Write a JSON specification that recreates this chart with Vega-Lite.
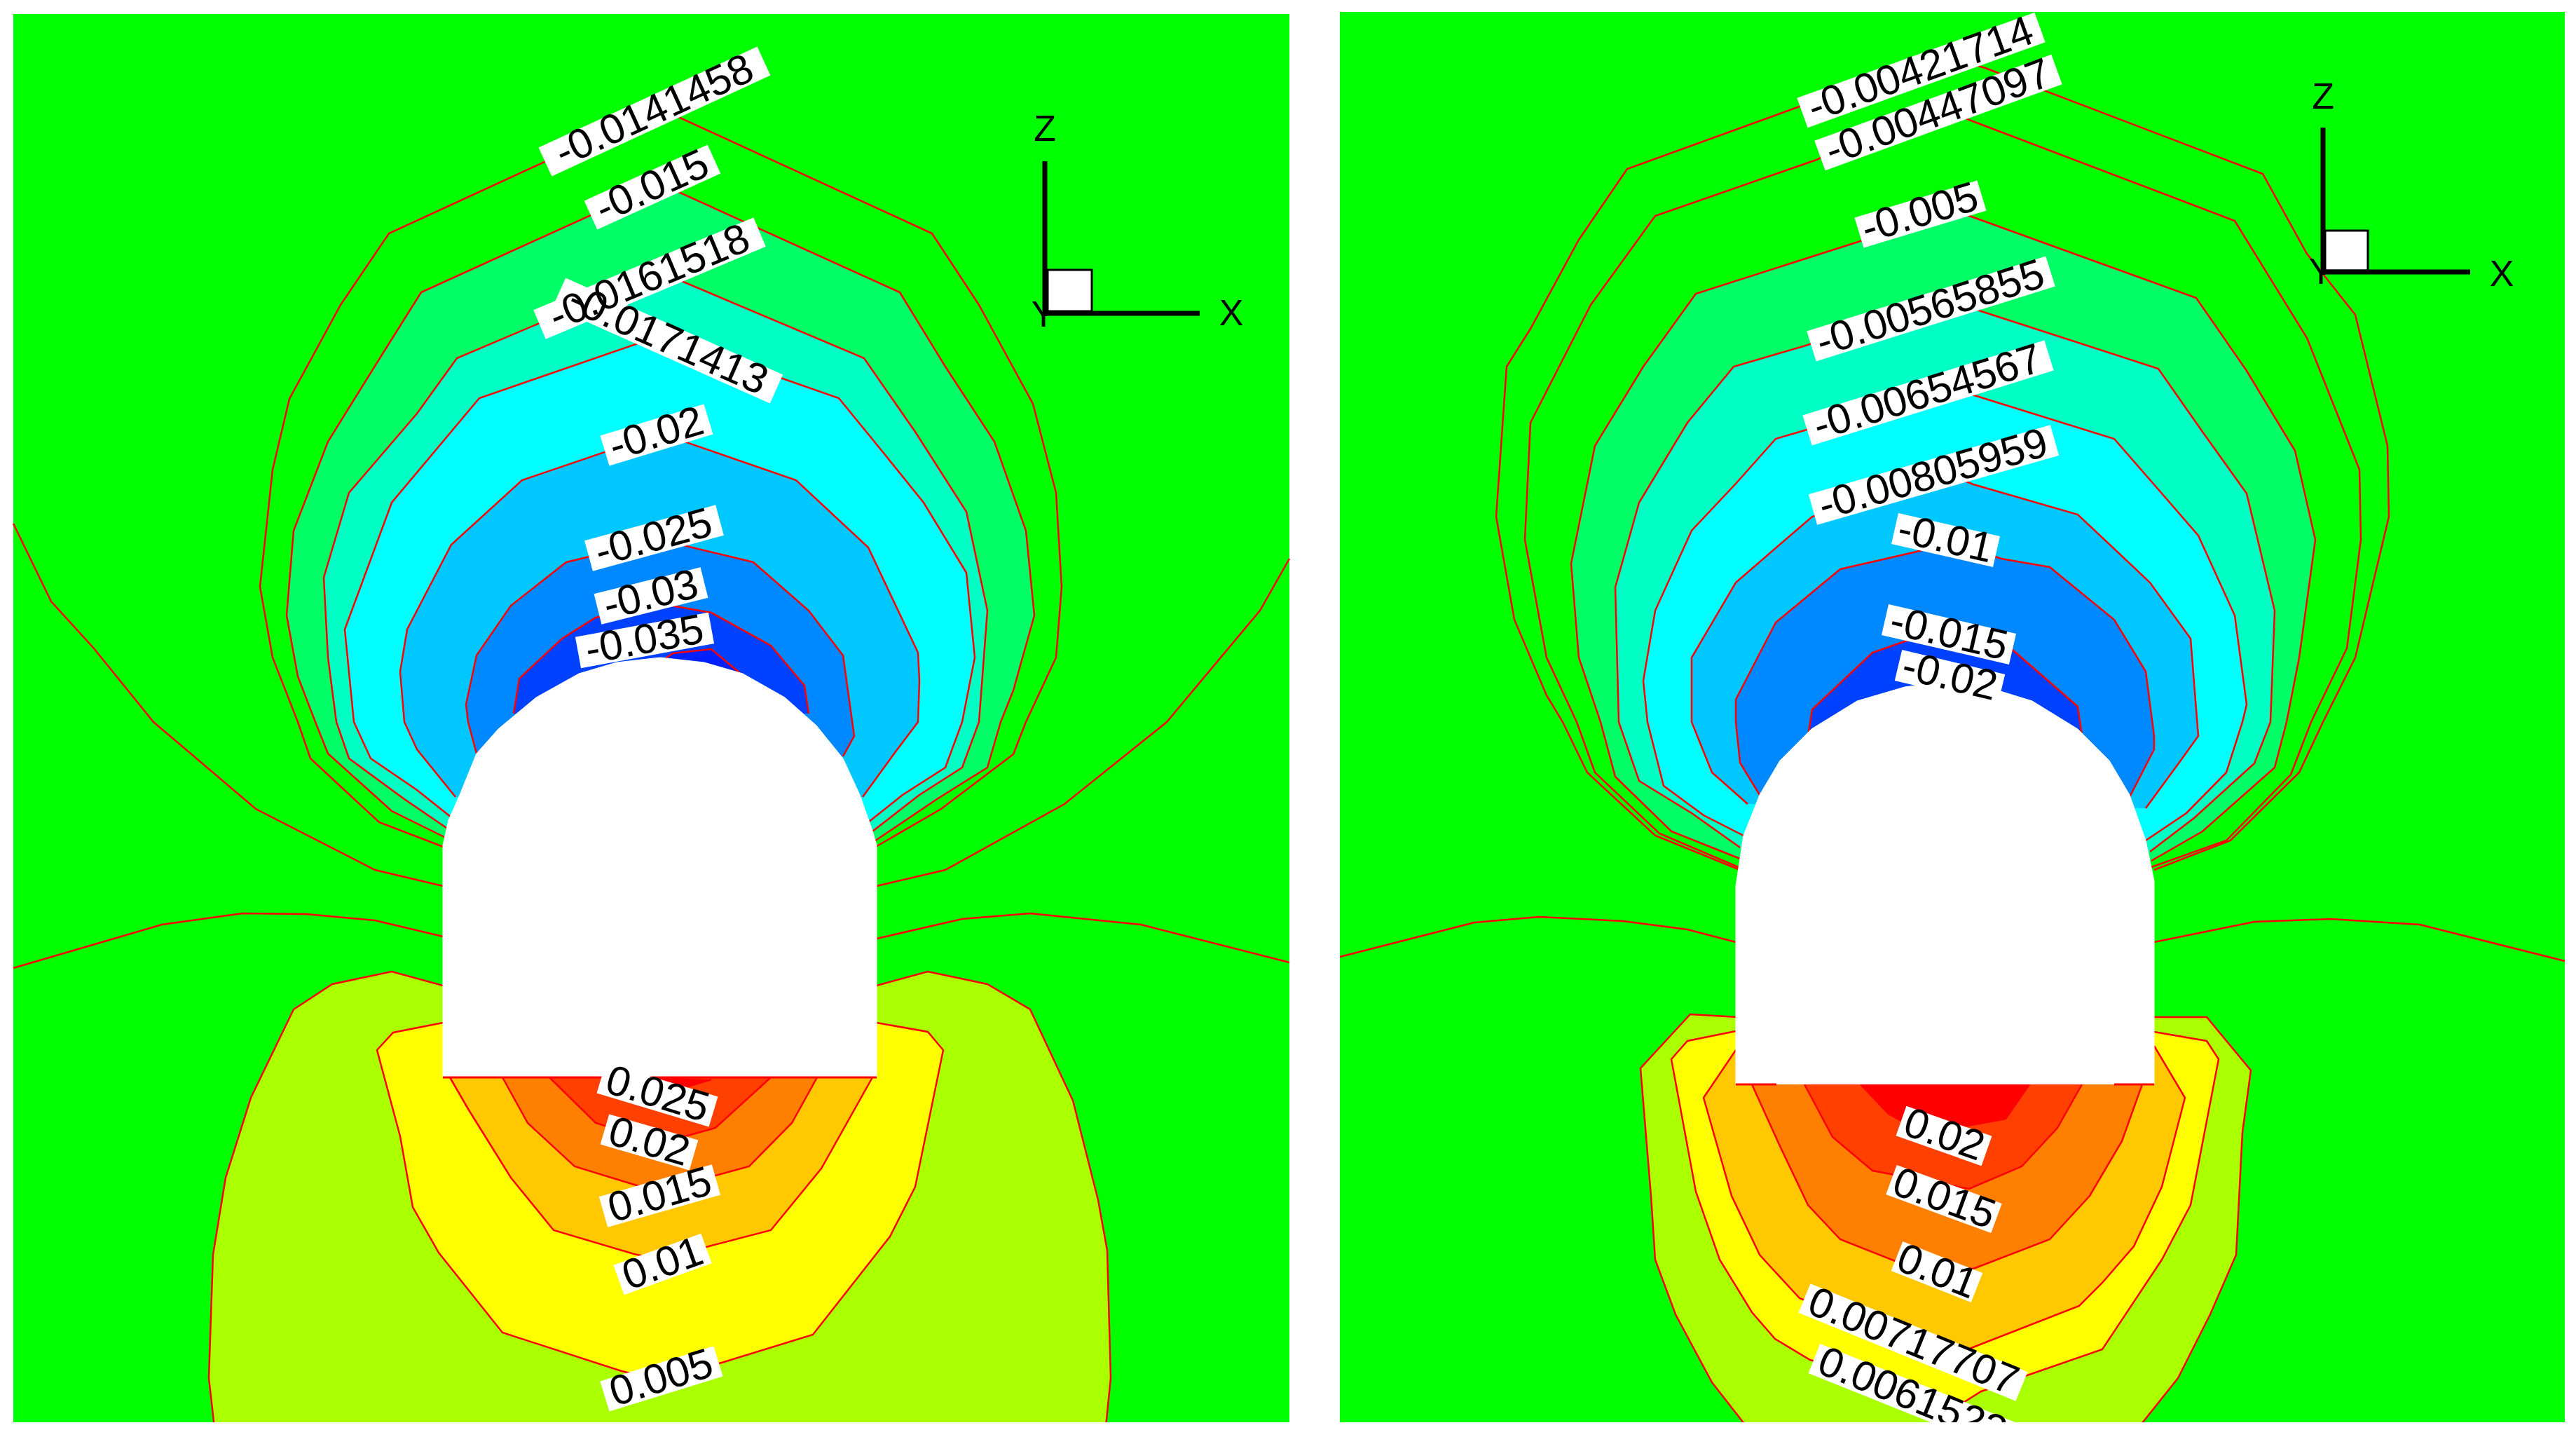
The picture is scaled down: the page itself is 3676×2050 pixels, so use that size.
{
"$schema":"https://vega.github.io/schema/vega-lite/v6.json",
"width":3676,"height":2050,
"autosize":{"type":"fit","contains":"padding"},
"padding":0,
"background":"white",
"config":{"view":{"stroke":null}},
"datasets":{
"panels":[{"x0":19,"x1":1840,"y0":20,"y1":2029},{"x0":1912,"x1":3660,"y0":17,"y1":2029}],
"margins":[{"x0":0,"x1":3676,"y0":2029,"y1":2050},{"x0":0,"x1":3676,"y0":0,"y1":17},{"x0":0,"x1":1900,"y0":0,"y1":20}],
"bands":[
{"id":"L1","band":"b0","i":0,"x":635,"y":1209},{"id":"L1","band":"b0","i":1,"x":541,"y":1173},{"id":"L1","band":"b0","i":2,"x":443,"y":1082},{"id":"L1","band":"b0","i":3,"x":425,"y":1030},{"id":"L1","band":"b0","i":4,"x":389,"y":938},{"id":"L1","band":"b0","i":5,"x":371,"y":837},{"id":"L1","band":"b0","i":6,"x":389,"y":670},{"id":"L1","band":"b0","i":7,"x":413,"y":569},{"id":"L1","band":"b0","i":8,"x":486,"y":435},{"id":"L1","band":"b0","i":9,"x":555,"y":333},{"id":"L1","band":"b0","i":10,"x":942,"y":155},{"id":"L1","band":"b0","i":11,"x":1330,"y":333},{"id":"L1","band":"b0","i":12,"x":1397,"y":435},{"id":"L1","band":"b0","i":13,"x":1474,"y":576},{"id":"L1","band":"b0","i":14,"x":1507,"y":703},{"id":"L1","band":"b0","i":15,"x":1515,"y":837},{"id":"L1","band":"b0","i":16,"x":1507,"y":938},{"id":"L1","band":"b0","i":17,"x":1464,"y":1030},{"id":"L1","band":"b0","i":18,"x":1446,"y":1076},{"id":"L1","band":"b0","i":19,"x":1343,"y":1154},{"id":"L1","band":"b0","i":20,"x":1248,"y":1209},
{"id":"L2","band":"b1","i":0,"x":638,"y":1196},{"id":"L2","band":"b1","i":1,"x":559,"y":1157},{"id":"L2","band":"b1","i":2,"x":468,"y":1075},{"id":"L2","band":"b1","i":3,"x":450,"y":1030},{"id":"L2","band":"b1","i":4,"x":425,"y":965},{"id":"L2","band":"b1","i":5,"x":409,"y":878},{"id":"L2","band":"b1","i":6,"x":419,"y":757},{"id":"L2","band":"b1","i":7,"x":468,"y":630},{"id":"L2","band":"b1","i":8,"x":547,"y":503},{"id":"L2","band":"b1","i":9,"x":601,"y":417},{"id":"L2","band":"b1","i":10,"x":942,"y":262},{"id":"L2","band":"b1","i":11,"x":1284,"y":417},{"id":"L2","band":"b1","i":12,"x":1349,"y":523},{"id":"L2","band":"b1","i":13,"x":1419,"y":630},{"id":"L2","band":"b1","i":14,"x":1464,"y":757},{"id":"L2","band":"b1","i":15,"x":1476,"y":878},{"id":"L2","band":"b1","i":16,"x":1446,"y":985},{"id":"L2","band":"b1","i":17,"x":1428,"y":1030},{"id":"L2","band":"b1","i":18,"x":1409,"y":1095},{"id":"L2","band":"b1","i":19,"x":1337,"y":1140},{"id":"L2","band":"b1","i":20,"x":1248,"y":1200},
{"id":"L3","band":"b2","i":0,"x":640,"y":1183},{"id":"L3","band":"b2","i":1,"x":577,"y":1140},{"id":"L3","band":"b2","i":2,"x":498,"y":1082},{"id":"L3","band":"b2","i":3,"x":480,"y":1030},{"id":"L3","band":"b2","i":4,"x":468,"y":938},{"id":"L3","band":"b2","i":5,"x":462,"y":824},{"id":"L3","band":"b2","i":6,"x":498,"y":703},{"id":"L3","band":"b2","i":7,"x":595,"y":590},{"id":"L3","band":"b2","i":8,"x":652,"y":511},{"id":"L3","band":"b2","i":9,"x":942,"y":388},{"id":"L3","band":"b2","i":10,"x":1233,"y":511},{"id":"L3","band":"b2","i":11,"x":1306,"y":616},{"id":"L3","band":"b2","i":12,"x":1379,"y":730},{"id":"L3","band":"b2","i":13,"x":1409,"y":871},{"id":"L3","band":"b2","i":14,"x":1397,"y":1030},{"id":"L3","band":"b2","i":15,"x":1373,"y":1095},{"id":"L3","band":"b2","i":16,"x":1312,"y":1134},{"id":"L3","band":"b2","i":17,"x":1245,"y":1186},
{"id":"L4","band":"b3","i":0,"x":644,"y":1166},{"id":"L4","band":"b3","i":1,"x":595,"y":1127},{"id":"L4","band":"b3","i":2,"x":529,"y":1082},{"id":"L4","band":"b3","i":3,"x":505,"y":1030},{"id":"L4","band":"b3","i":4,"x":492,"y":898},{"id":"L4","band":"b3","i":5,"x":559,"y":717},{"id":"L4","band":"b3","i":6,"x":684,"y":568},{"id":"L4","band":"b3","i":7,"x":942,"y":479},{"id":"L4","band":"b3","i":8,"x":1197,"y":568},{"id":"L4","band":"b3","i":9,"x":1264,"y":650},{"id":"L4","band":"b3","i":10,"x":1318,"y":717},{"id":"L4","band":"b3","i":11,"x":1379,"y":817},{"id":"L4","band":"b3","i":12,"x":1391,"y":938},{"id":"L4","band":"b3","i":13,"x":1373,"y":1030},{"id":"L4","band":"b3","i":14,"x":1349,"y":1095},{"id":"L4","band":"b3","i":15,"x":1288,"y":1134},{"id":"L4","band":"b3","i":16,"x":1239,"y":1173},
{"id":"L5","band":"b4","i":0,"x":650,"y":1137},{"id":"L5","band":"b4","i":1,"x":595,"y":1069},{"id":"L5","band":"b4","i":2,"x":577,"y":1030},{"id":"L5","band":"b4","i":3,"x":571,"y":958},{"id":"L5","band":"b4","i":4,"x":581,"y":898},{"id":"L5","band":"b4","i":5,"x":644,"y":777},{"id":"L5","band":"b4","i":6,"x":745,"y":685},{"id":"L5","band":"b4","i":7,"x":942,"y":618},{"id":"L5","band":"b4","i":8,"x":1136,"y":685},{"id":"L5","band":"b4","i":9,"x":1239,"y":781},{"id":"L5","band":"b4","i":10,"x":1310,"y":931},{"id":"L5","band":"b4","i":11,"x":1312,"y":971},{"id":"L5","band":"b4","i":12,"x":1310,"y":1030},{"id":"L5","band":"b4","i":13,"x":1276,"y":1075},{"id":"L5","band":"b4","i":14,"x":1231,"y":1137},
{"id":"L6","band":"b5","i":0,"x":680,"y":1075},{"id":"L6","band":"b5","i":1,"x":668,"y":1030},{"id":"L6","band":"b5","i":2,"x":665,"y":1005},{"id":"L6","band":"b5","i":3,"x":680,"y":935},{"id":"L6","band":"b5","i":4,"x":729,"y":864},{"id":"L6","band":"b5","i":5,"x":808,"y":802},{"id":"L6","band":"b5","i":6,"x":942,"y":770},{"id":"L6","band":"b5","i":7,"x":1075,"y":802},{"id":"L6","band":"b5","i":8,"x":1154,"y":871},{"id":"L6","band":"b5","i":9,"x":1203,"y":935},{"id":"L6","band":"b5","i":10,"x":1219,"y":1050},{"id":"L6","band":"b5","i":11,"x":1203,"y":1079},
{"id":"L7","band":"b6","i":0,"x":733,"y":1018},{"id":"L7","band":"b6","i":1,"x":741,"y":968},{"id":"L7","band":"b6","i":2,"x":802,"y":911},{"id":"L7","band":"b6","i":3,"x":850,"y":881},{"id":"L7","band":"b6","i":4,"x":942,"y":861},{"id":"L7","band":"b6","i":5,"x":1015,"y":874},{"id":"L7","band":"b6","i":6,"x":1100,"y":921},{"id":"L7","band":"b6","i":7,"x":1148,"y":978},{"id":"L7","band":"b6","i":8,"x":1154,"y":1018},
{"id":"L8","band":"b7","i":0,"x":942,"y":945},{"id":"L8","band":"b7","i":1,"x":960,"y":932},{"id":"L8","band":"b7","i":2,"x":1015,"y":926},{"id":"L8","band":"b7","i":3,"x":1058,"y":962},
{"id":"W1","band":"w1","i":0,"x":307,"y":2045},{"id":"W1","band":"w1","i":1,"x":298,"y":1966},{"id":"W1","band":"w1","i":2,"x":304,"y":1790},{"id":"W1","band":"w1","i":3,"x":322,"y":1680},{"id":"W1","band":"w1","i":4,"x":358,"y":1566},{"id":"W1","band":"w1","i":5,"x":419,"y":1440},{"id":"W1","band":"w1","i":6,"x":474,"y":1404},{"id":"W1","band":"w1","i":7,"x":559,"y":1386},{"id":"W1","band":"w1","i":8,"x":632,"y":1406},{"id":"W1","band":"w1","i":9,"x":1251,"y":1406},{"id":"W1","band":"w1","i":10,"x":1324,"y":1386},{"id":"W1","band":"w1","i":11,"x":1409,"y":1404},{"id":"W1","band":"w1","i":12,"x":1470,"y":1440},{"id":"W1","band":"w1","i":13,"x":1531,"y":1570},{"id":"W1","band":"w1","i":14,"x":1567,"y":1712},{"id":"W1","band":"w1","i":15,"x":1580,"y":1784},{"id":"W1","band":"w1","i":16,"x":1585,"y":1966},{"id":"W1","band":"w1","i":17,"x":1577,"y":2045},
{"id":"W2","band":"w2","i":0,"x":632,"y":1459},{"id":"W2","band":"w2","i":1,"x":561,"y":1473},{"id":"W2","band":"w2","i":2,"x":538,"y":1498},{"id":"W2","band":"w2","i":3,"x":571,"y":1621},{"id":"W2","band":"w2","i":4,"x":589,"y":1722},{"id":"W2","band":"w2","i":5,"x":626,"y":1787},{"id":"W2","band":"w2","i":6,"x":717,"y":1901},{"id":"W2","band":"w2","i":7,"x":887,"y":1956},{"id":"W2","band":"w2","i":8,"x":942,"y":1969},{"id":"W2","band":"w2","i":9,"x":1033,"y":1943},{"id":"W2","band":"w2","i":10,"x":1160,"y":1904},{"id":"W2","band":"w2","i":11,"x":1270,"y":1764},{"id":"W2","band":"w2","i":12,"x":1306,"y":1693},{"id":"W2","band":"w2","i":13,"x":1346,"y":1498},{"id":"W2","band":"w2","i":14,"x":1324,"y":1472},{"id":"W2","band":"w2","i":15,"x":1251,"y":1459},
{"id":"W3","band":"w3","i":0,"x":642,"y":1537},{"id":"W3","band":"w3","i":1,"x":668,"y":1582},{"id":"W3","band":"w3","i":2,"x":729,"y":1680},{"id":"W3","band":"w3","i":3,"x":790,"y":1755},{"id":"W3","band":"w3","i":4,"x":905,"y":1789},{"id":"W3","band":"w3","i":5,"x":942,"y":1797},{"id":"W3","band":"w3","i":6,"x":1015,"y":1777},{"id":"W3","band":"w3","i":7,"x":1100,"y":1755},{"id":"W3","band":"w3","i":8,"x":1172,"y":1667},{"id":"W3","band":"w3","i":9,"x":1245,"y":1537},
{"id":"W4","band":"w4","i":0,"x":717,"y":1537},{"id":"W4","band":"w4","i":1,"x":753,"y":1602},{"id":"W4","band":"w4","i":2,"x":820,"y":1664},{"id":"W4","band":"w4","i":3,"x":905,"y":1690},{"id":"W4","band":"w4","i":4,"x":942,"y":1700},{"id":"W4","band":"w4","i":5,"x":1021,"y":1677},{"id":"W4","band":"w4","i":6,"x":1069,"y":1664},{"id":"W4","band":"w4","i":7,"x":1130,"y":1602},{"id":"W4","band":"w4","i":8,"x":1166,"y":1537},
{"id":"W5","band":"w5","i":0,"x":784,"y":1537},{"id":"W5","band":"w5","i":1,"x":850,"y":1602},{"id":"W5","band":"w5","i":2,"x":942,"y":1631},{"id":"W5","band":"w5","i":3,"x":1021,"y":1609},{"id":"W5","band":"w5","i":4,"x":1100,"y":1537},
{"id":"W6","band":"w6","i":0,"x":936,"y":1537},{"id":"W6","band":"w6","i":1,"x":972,"y":1553},{"id":"W6","band":"w6","i":2,"x":1015,"y":1540},
{"id":"R1","band":"b0","i":0,"x":2483,"y":1241},{"id":"R1","band":"b0","i":1,"x":2362,"y":1192},{"id":"R1","band":"b0","i":2,"x":2265,"y":1102},{"id":"R1","band":"b0","i":3,"x":2230,"y":1030},{"id":"R1","band":"b0","i":4,"x":2207,"y":992},{"id":"R1","band":"b0","i":5,"x":2161,"y":884},{"id":"R1","band":"b0","i":6,"x":2135,"y":737},{"id":"R1","band":"b0","i":7,"x":2150,"y":523},{"id":"R1","band":"b0","i":8,"x":2184,"y":469},{"id":"R1","band":"b0","i":9,"x":2253,"y":342},{"id":"R1","band":"b0","i":10,"x":2322,"y":241},{"id":"R1","band":"b0","i":11,"x":2565,"y":153},{"id":"R1","band":"b0","i":12,"x":2764,"y":77},{"id":"R1","band":"b0","i":13,"x":2833,"y":97},{"id":"R1","band":"b0","i":14,"x":3229,"y":248},{"id":"R1","band":"b0","i":15,"x":3292,"y":362},{"id":"R1","band":"b0","i":16,"x":3361,"y":449},{"id":"R1","band":"b0","i":17,"x":3407,"y":636},{"id":"R1","band":"b0","i":18,"x":3409,"y":737},{"id":"R1","band":"b0","i":19,"x":3361,"y":938},{"id":"R1","band":"b0","i":20,"x":3315,"y":1030},{"id":"R1","band":"b0","i":21,"x":3281,"y":1102},{"id":"R1","band":"b0","i":22,"x":3183,"y":1199},{"id":"R1","band":"b0","i":23,"x":3074,"y":1241},
{"id":"R2","band":"b0","i":0,"x":2483,"y":1238},{"id":"R2","band":"b0","i":1,"x":2368,"y":1189},{"id":"R2","band":"b0","i":2,"x":2276,"y":1102},{"id":"R2","band":"b0","i":3,"x":2250,"y":1030},{"id":"R2","band":"b0","i":4,"x":2207,"y":938},{"id":"R2","band":"b0","i":5,"x":2176,"y":770},{"id":"R2","band":"b0","i":6,"x":2184,"y":603},{"id":"R2","band":"b0","i":7,"x":2270,"y":435},{"id":"R2","band":"b0","i":8,"x":2362,"y":308},{"id":"R2","band":"b0","i":9,"x":2592,"y":228},{"id":"R2","band":"b0","i":10,"x":2764,"y":151},{"id":"R2","band":"b0","i":11,"x":2810,"y":171},{"id":"R2","band":"b0","i":12,"x":3189,"y":315},{"id":"R2","band":"b0","i":13,"x":3292,"y":482},{"id":"R2","band":"b0","i":14,"x":3367,"y":670},{"id":"R2","band":"b0","i":15,"x":3369,"y":770},{"id":"R2","band":"b0","i":16,"x":3349,"y":925},{"id":"R2","band":"b0","i":17,"x":3298,"y":1030},{"id":"R2","band":"b0","i":18,"x":3269,"y":1105},{"id":"R2","band":"b0","i":19,"x":3177,"y":1199},{"id":"R2","band":"b0","i":20,"x":3070,"y":1237},
{"id":"R3","band":"b1","i":0,"x":2483,"y":1225},{"id":"R3","band":"b1","i":1,"x":2385,"y":1186},{"id":"R3","band":"b1","i":2,"x":2305,"y":1108},{"id":"R3","band":"b1","i":3,"x":2284,"y":1030},{"id":"R3","band":"b1","i":4,"x":2253,"y":938},{"id":"R3","band":"b1","i":5,"x":2242,"y":804},{"id":"R3","band":"b1","i":6,"x":2276,"y":636},{"id":"R3","band":"b1","i":7,"x":2345,"y":523},{"id":"R3","band":"b1","i":8,"x":2420,"y":419},{"id":"R3","band":"b1","i":9,"x":2661,"y":342},{"id":"R3","band":"b1","i":10,"x":2770,"y":295},{"id":"R3","band":"b1","i":11,"x":2816,"y":310},{"id":"R3","band":"b1","i":12,"x":3134,"y":425},{"id":"R3","band":"b1","i":13,"x":3206,"y":529},{"id":"R3","band":"b1","i":14,"x":3275,"y":643},{"id":"R3","band":"b1","i":15,"x":3304,"y":770},{"id":"R3","band":"b1","i":16,"x":3281,"y":938},{"id":"R3","band":"b1","i":17,"x":3263,"y":1030},{"id":"R3","band":"b1","i":18,"x":3246,"y":1095},{"id":"R3","band":"b1","i":19,"x":3143,"y":1186},{"id":"R3","band":"b1","i":20,"x":3070,"y":1228},
{"id":"R4","band":"b2","i":0,"x":2483,"y":1209},{"id":"R4","band":"b2","i":1,"x":2414,"y":1160},{"id":"R4","band":"b2","i":2,"x":2339,"y":1114},{"id":"R4","band":"b2","i":3,"x":2310,"y":1030},{"id":"R4","band":"b2","i":4,"x":2305,"y":838},{"id":"R4","band":"b2","i":5,"x":2339,"y":717},{"id":"R4","band":"b2","i":6,"x":2408,"y":603},{"id":"R4","band":"b2","i":7,"x":2474,"y":523},{"id":"R4","band":"b2","i":8,"x":2580,"y":492},{"id":"R4","band":"b2","i":9,"x":2770,"y":422},{"id":"R4","band":"b2","i":10,"x":2821,"y":442},{"id":"R4","band":"b2","i":11,"x":3080,"y":526},{"id":"R4","band":"b2","i":12,"x":3143,"y":616},{"id":"R4","band":"b2","i":13,"x":3206,"y":704},{"id":"R4","band":"b2","i":14,"x":3246,"y":871},{"id":"R4","band":"b2","i":15,"x":3240,"y":1030},{"id":"R4","band":"b2","i":16,"x":3217,"y":1089},{"id":"R4","band":"b2","i":17,"x":3131,"y":1167},{"id":"R4","band":"b2","i":18,"x":3068,"y":1215},
{"id":"R5","band":"b3","i":0,"x":2488,"y":1192},{"id":"R5","band":"b3","i":1,"x":2431,"y":1163},{"id":"R5","band":"b3","i":2,"x":2374,"y":1121},{"id":"R5","band":"b3","i":3,"x":2351,"y":1030},{"id":"R5","band":"b3","i":4,"x":2345,"y":971},{"id":"R5","band":"b3","i":5,"x":2362,"y":871},{"id":"R5","band":"b3","i":6,"x":2414,"y":757},{"id":"R5","band":"b3","i":7,"x":2477,"y":690},{"id":"R5","band":"b3","i":8,"x":2534,"y":626},{"id":"R5","band":"b3","i":9,"x":2575,"y":614},{"id":"R5","band":"b3","i":10,"x":2770,"y":549},{"id":"R5","band":"b3","i":11,"x":2827,"y":567},{"id":"R5","band":"b3","i":12,"x":3017,"y":626},{"id":"R5","band":"b3","i":13,"x":3085,"y":704},{"id":"R5","band":"b3","i":14,"x":3137,"y":764},{"id":"R5","band":"b3","i":15,"x":3189,"y":878},{"id":"R5","band":"b3","i":16,"x":3206,"y":1005},{"id":"R5","band":"b3","i":17,"x":3200,"y":1030},{"id":"R5","band":"b3","i":18,"x":3177,"y":1102},{"id":"R5","band":"b3","i":19,"x":3120,"y":1160},{"id":"R5","band":"b3","i":20,"x":3062,"y":1199},
{"id":"R6","band":"b4","i":0,"x":2494,"y":1147},{"id":"R6","band":"b4","i":1,"x":2443,"y":1102},{"id":"R6","band":"b4","i":2,"x":2414,"y":1030},{"id":"R6","band":"b4","i":3,"x":2414,"y":938},{"id":"R6","band":"b4","i":4,"x":2477,"y":831},{"id":"R6","band":"b4","i":5,"x":2586,"y":737},{"id":"R6","band":"b4","i":6,"x":2770,"y":673},{"id":"R6","band":"b4","i":7,"x":2816,"y":691},{"id":"R6","band":"b4","i":8,"x":2965,"y":734},{"id":"R6","band":"b4","i":9,"x":3068,"y":831},{"id":"R6","band":"b4","i":10,"x":3126,"y":911},{"id":"R6","band":"b4","i":11,"x":3137,"y":1050},{"id":"R6","band":"b4","i":12,"x":3114,"y":1082},{"id":"R6","band":"b4","i":13,"x":3062,"y":1153},
{"id":"R7","band":"b5","i":0,"x":2511,"y":1134},{"id":"R7","band":"b5","i":1,"x":2483,"y":1088},{"id":"R7","band":"b5","i":2,"x":2477,"y":1030},{"id":"R7","band":"b5","i":3,"x":2477,"y":998},{"id":"R7","band":"b5","i":4,"x":2534,"y":888},{"id":"R7","band":"b5","i":5,"x":2626,"y":812},{"id":"R7","band":"b5","i":6,"x":2735,"y":787},{"id":"R7","band":"b5","i":7,"x":2787,"y":774},{"id":"R7","band":"b5","i":8,"x":2856,"y":797},{"id":"R7","band":"b5","i":9,"x":2925,"y":809},{"id":"R7","band":"b5","i":10,"x":3017,"y":884},{"id":"R7","band":"b5","i":11,"x":3062,"y":958},{"id":"R7","band":"b5","i":12,"x":3074,"y":1050},{"id":"R7","band":"b5","i":13,"x":3074,"y":1069},{"id":"R7","band":"b5","i":14,"x":3039,"y":1137},
{"id":"R8","band":"b6","i":0,"x":2580,"y":1050},{"id":"R8","band":"b6","i":1,"x":2586,"y":1012},{"id":"R8","band":"b6","i":2,"x":2672,"y":931},{"id":"R8","band":"b6","i":3,"x":2718,"y":915},{"id":"R8","band":"b6","i":4,"x":2770,"y":901},{"id":"R8","band":"b6","i":5,"x":2873,"y":928},{"id":"R8","band":"b6","i":6,"x":2965,"y":1008},{"id":"R8","band":"b6","i":7,"x":2971,"y":1050},
{"id":"RW1","band":"w1","i":0,"x":2500,"y":2045},{"id":"RW1","band":"w1","i":1,"x":2443,"y":1972},{"id":"RW1","band":"w1","i":2,"x":2391,"y":1875},{"id":"RW1","band":"w1","i":3,"x":2362,"y":1797},{"id":"RW1","band":"w1","i":4,"x":2356,"y":1706},{"id":"RW1","band":"w1","i":5,"x":2341,"y":1524},{"id":"RW1","band":"w1","i":6,"x":2412,"y":1447},{"id":"RW1","band":"w1","i":7,"x":2480,"y":1451},{"id":"RW1","band":"w1","i":8,"x":3074,"y":1451},{"id":"RW1","band":"w1","i":9,"x":3149,"y":1451},{"id":"RW1","band":"w1","i":10,"x":3212,"y":1527},{"id":"RW1","band":"w1","i":11,"x":3200,"y":1615},{"id":"RW1","band":"w1","i":12,"x":3191,"y":1790},{"id":"RW1","band":"w1","i":13,"x":3154,"y":1875},{"id":"RW1","band":"w1","i":14,"x":3108,"y":1966},{"id":"RW1","band":"w1","i":15,"x":3045,"y":2045},
{"id":"RW2","band":"w2","i":0,"x":2477,"y":1471},{"id":"RW2","band":"w2","i":1,"x":2408,"y":1485},{"id":"RW2","band":"w2","i":2,"x":2385,"y":1511},{"id":"RW2","band":"w2","i":3,"x":2420,"y":1700},{"id":"RW2","band":"w2","i":4,"x":2454,"y":1797},{"id":"RW2","band":"w2","i":5,"x":2500,"y":1872},{"id":"RW2","band":"w2","i":6,"x":2533,"y":1910},{"id":"RW2","band":"w2","i":7,"x":2583,"y":1940},{"id":"RW2","band":"w2","i":8,"x":2800,"y":2002},{"id":"RW2","band":"w2","i":9,"x":2827,"y":1985},{"id":"RW2","band":"w2","i":10,"x":2890,"y":1963},{"id":"RW2","band":"w2","i":11,"x":3000,"y":1925},{"id":"RW2","band":"w2","i":12,"x":3085,"y":1797},{"id":"RW2","band":"w2","i":13,"x":3126,"y":1719},{"id":"RW2","band":"w2","i":14,"x":3166,"y":1511},{"id":"RW2","band":"w2","i":15,"x":3149,"y":1485},{"id":"RW2","band":"w2","i":16,"x":3074,"y":1472},
{"id":"RW3","band":"w3","i":0,"x":2477,"y":1498},{"id":"RW3","band":"w3","i":1,"x":2431,"y":1566},{"id":"RW3","band":"w3","i":2,"x":2471,"y":1706},{"id":"RW3","band":"w3","i":3,"x":2511,"y":1790},{"id":"RW3","band":"w3","i":4,"x":2520,"y":1800},{"id":"RW3","band":"w3","i":5,"x":2568,"y":1852},{"id":"RW3","band":"w3","i":6,"x":2790,"y":1936},{"id":"RW3","band":"w3","i":7,"x":2813,"y":1923},{"id":"RW3","band":"w3","i":8,"x":2967,"y":1863},{"id":"RW3","band":"w3","i":9,"x":3000,"y":1830},{"id":"RW3","band":"w3","i":10,"x":3045,"y":1778},{"id":"RW3","band":"w3","i":11,"x":3085,"y":1693},{"id":"RW3","band":"w3","i":12,"x":3118,"y":1566},{"id":"RW3","band":"w3","i":13,"x":3074,"y":1492},
{"id":"RW4","band":"w4","i":0,"x":2500,"y":1547},{"id":"RW4","band":"w4","i":1,"x":2540,"y":1635},{"id":"RW4","band":"w4","i":2,"x":2580,"y":1719},{"id":"RW4","band":"w4","i":3,"x":2626,"y":1768},{"id":"RW4","band":"w4","i":4,"x":2707,"y":1800},{"id":"RW4","band":"w4","i":5,"x":2816,"y":1810},{"id":"RW4","band":"w4","i":6,"x":2925,"y":1768},{"id":"RW4","band":"w4","i":7,"x":2982,"y":1706},{"id":"RW4","band":"w4","i":8,"x":3028,"y":1628},{"id":"RW4","band":"w4","i":9,"x":3057,"y":1547},
{"id":"RW5","band":"w5","i":0,"x":2575,"y":1547},{"id":"RW5","band":"w5","i":1,"x":2615,"y":1622},{"id":"RW5","band":"w5","i":2,"x":2672,"y":1670},{"id":"RW5","band":"w5","i":3,"x":2810,"y":1696},{"id":"RW5","band":"w5","i":4,"x":2885,"y":1664},{"id":"RW5","band":"w5","i":5,"x":2936,"y":1609},{"id":"RW5","band":"w5","i":6,"x":2971,"y":1547},
{"id":"RW6","band":"w6","i":0,"x":2655,"y":1547},{"id":"RW6","band":"w6","i":1,"x":2695,"y":1589},{"id":"RW6","band":"w6","i":2,"x":2724,"y":1605},{"id":"RW6","band":"w6","i":3,"x":2775,"y":1612},{"id":"RW6","band":"w6","i":4,"x":2862,"y":1596},{"id":"RW6","band":"w6","i":5,"x":2896,"y":1547}
],
"lines":[
{"id":"A1","i":0,"x":19,"y":747},{"id":"A1","i":1,"x":73,"y":858},{"id":"A1","i":2,"x":134,"y":925},{"id":"A1","i":3,"x":219,"y":1030},{"id":"A1","i":4,"x":365,"y":1154},{"id":"A1","i":5,"x":535,"y":1241},{"id":"A1","i":6,"x":632,"y":1264},
{"id":"A2","i":0,"x":1840,"y":797},{"id":"A2","i":1,"x":1798,"y":871},{"id":"A2","i":2,"x":1665,"y":1030},{"id":"A2","i":3,"x":1519,"y":1147},{"id":"A2","i":4,"x":1349,"y":1241},{"id":"A2","i":5,"x":1251,"y":1264},
{"id":"B1","i":0,"x":19,"y":1381},{"id":"B1","i":1,"x":231,"y":1319},{"id":"B1","i":2,"x":346,"y":1303},{"id":"B1","i":3,"x":437,"y":1304},{"id":"B1","i":4,"x":535,"y":1313},{"id":"B1","i":5,"x":632,"y":1336},
{"id":"B2","i":0,"x":1840,"y":1373},{"id":"B2","i":1,"x":1628,"y":1319},{"id":"B2","i":2,"x":1470,"y":1303},{"id":"B2","i":3,"x":1373,"y":1311},{"id":"B2","i":4,"x":1251,"y":1339},
{"id":"B3","i":0,"x":1912,"y":1365},{"id":"B3","i":1,"x":2104,"y":1316},{"id":"B3","i":2,"x":2196,"y":1308},{"id":"B3","i":3,"x":2316,"y":1314},{"id":"B3","i":4,"x":2408,"y":1326},{"id":"B3","i":5,"x":2477,"y":1344},
{"id":"B4","i":0,"x":3074,"y":1344},{"id":"B4","i":1,"x":3217,"y":1315},{"id":"B4","i":2,"x":3326,"y":1311},{"id":"B4","i":3,"x":3453,"y":1319},{"id":"B4","i":4,"x":3660,"y":1371}
],
"tunnels":[
{"id":"T1","i":0,"x":632,"y":1536},{"id":"T1","i":1,"x":632,"y":1206},{"id":"T1","i":2,"x":640,"y":1170},{"id":"T1","i":3,"x":656,"y":1134},{"id":"T1","i":4,"x":680,"y":1075},{"id":"T1","i":5,"x":711,"y":1040},{"id":"T1","i":6,"x":765,"y":995},{"id":"T1","i":7,"x":826,"y":961},{"id":"T1","i":8,"x":880,"y":945},{"id":"T1","i":9,"x":942,"y":938},{"id":"T1","i":10,"x":1005,"y":945},{"id":"T1","i":11,"x":1060,"y":961},{"id":"T1","i":12,"x":1120,"y":995},{"id":"T1","i":13,"x":1165,"y":1035},{"id":"T1","i":14,"x":1203,"y":1082},{"id":"T1","i":15,"x":1227,"y":1134},{"id":"T1","i":16,"x":1245,"y":1185},{"id":"T1","i":17,"x":1251,"y":1206},{"id":"T1","i":18,"x":1251,"y":1536},
{"id":"T2","i":0,"x":2477,"y":1547},{"id":"T2","i":1,"x":2477,"y":1264},{"id":"T2","i":2,"x":2488,"y":1192},{"id":"T2","i":3,"x":2511,"y":1134},{"id":"T2","i":4,"x":2540,"y":1085},{"id":"T2","i":5,"x":2585,"y":1040},{"id":"T2","i":6,"x":2650,"y":1000},{"id":"T2","i":7,"x":2718,"y":980},{"id":"T2","i":8,"x":2775,"y":972},{"id":"T2","i":9,"x":2835,"y":980},{"id":"T2","i":10,"x":2900,"y":1000},{"id":"T2","i":11,"x":2965,"y":1040},{"id":"T2","i":12,"x":3010,"y":1085},{"id":"T2","i":13,"x":3039,"y":1134},{"id":"T2","i":14,"x":3062,"y":1199},{"id":"T2","i":15,"x":3074,"y":1257},{"id":"T2","i":16,"x":3074,"y":1547}
],
"floors":[{"x0":632,"x1":1251,"y":1537},{"x0":2477,"x1":2535,"y":1547},{"x0":3017,"x1":3074,"y":1547}],
"labels":[
{"text":"-0.0141458","x":934,"y":159,"angle":-24.6,"x0":778,"y0":231,"x1":1090,"y1":87},
{"text":"-0.015","x":931,"y":267,"angle":-24.4,"x0":843,"y0":307,"x1":1019,"y1":227},
{"text":"-0.0161518","x":927,"y":397,"angle":-22.8,"x0":770,"y0":463,"x1":1084,"y1":331},
{"text":"-0.0171413","x":953,"y":486,"angle":24,"x0":798,"y0":417,"x1":1108,"y1":555},
{"text":"-0.02","x":937,"y":620,"angle":-16.9,"x0":863,"y0":643,"x1":1011,"y1":598},
{"text":"-0.025","x":933,"y":768,"angle":-15.2,"x0":840,"y0":793,"x1":1027,"y1":742},
{"text":"-0.03","x":929,"y":850,"angle":-14,"x0":853,"y0":869,"x1":1005,"y1":831},
{"text":"-0.035","x":920,"y":914,"angle":-10.4,"x0":825,"y0":931,"x1":1015,"y1":896},
{"text":"0.025","x":938,"y":1562,"angle":16.7,"x0":858,"y0":1538,"x1":1018,"y1":1586},
{"text":"0.02","x":926,"y":1630,"angle":16.2,"x0":863,"y0":1611,"x1":990,"y1":1648},
{"text":"0.015","x":942,"y":1706,"angle":-16,"x0":861,"y0":1729,"x1":1022,"y1":1683},
{"text":"0.01","x":946,"y":1804,"angle":-19.8,"x0":883,"y0":1826,"x1":1008,"y1":1781},
{"text":"0.005","x":944,"y":1967,"angle":-17.2,"x0":863,"y0":1992,"x1":1025,"y1":1942},
{"text":"-0.00421714","x":2741,"y":100,"angle":-19.8,"x0":2572,"y0":161,"x1":2911,"y1":39},
{"text":"-0.00447097","x":2766,"y":161,"angle":-20,"x0":2597,"y0":222,"x1":2935,"y1":99},
{"text":"-0.005","x":2740,"y":305,"angle":-16.8,"x0":2653,"y0":332,"x1":2828,"y1":279},
{"text":"-0.00565855","x":2755,"y":441,"angle":-17.4,"x0":2585,"y0":494,"x1":2926,"y1":387},
{"text":"-0.00654567","x":2751,"y":561,"angle":-17.2,"x0":2579,"y0":614,"x1":2924,"y1":507},
{"text":"-0.00805959","x":2759,"y":678,"angle":-16,"x0":2587,"y0":727,"x1":2932,"y1":628},
{"text":"-0.01","x":2776,"y":770,"angle":12.8,"x0":2704,"y0":754,"x1":2849,"y1":787},
{"text":"-0.015","x":2781,"y":905,"angle":13,"x0":2690,"y0":884,"x1":2872,"y1":926},
{"text":"-0.02","x":2782,"y":966,"angle":13.4,"x0":2709,"y0":949,"x1":2856,"y1":984},
{"text":"0.02","x":2774,"y":1620,"angle":19.4,"x0":2713,"y0":1599,"x1":2835,"y1":1642},
{"text":"0.015","x":2774,"y":1711,"angle":20,"x0":2699,"y0":1683,"x1":2849,"y1":1738},
{"text":"0.01","x":2764,"y":1815,"angle":21.5,"x0":2707,"y0":1792,"x1":2821,"y1":1837},
{"text":"0.00717707","x":2730,"y":1915,"angle":22,"x0":2575,"y0":1852,"x1":2885,"y1":1978},
{"text":"0.00615238","x":2744,"y":2000,"angle":22,"x0":2589,"y0":1938,"x1":2900,"y1":2063}
],
"triadBars":[
{"x0":1491,"y0":230,"x1":1491,"y1":451},{"x0":1488,"y0":447,"x1":1712,"y1":447},
{"x0":3315,"y0":182,"x1":3315,"y1":392},{"x0":3312,"y0":388,"x1":3525,"y1":388}
],
"triadBoxes":[{"x0":1495,"x1":1558,"y0":385,"y1":444},{"x0":3318,"x1":3379,"y0":329,"y1":386}],
"triadText":[
{"text":"Y","x":1489,"y":450},{"text":"Z","x":1491,"y":185},{"text":"X","x":1757,"y":448},
{"text":"Y","x":3312,"y":389},{"text":"Z","x":3315,"y":139},{"text":"X","x":3570,"y":392}
]
},
"layer":[
{"data":{"name":"panels"},"mark":{"type":"rect","fill":"#00ff00"},
 "encoding":{"x":{"field":"x0","type":"quantitative","scale":{"domain":[0,3676],"nice":false,"zero":false},"axis":null},"x2":{"field":"x1"},"y":{"field":"y0","type":"quantitative","scale":{"domain":[0,2050],"nice":false,"zero":false,"reverse":true},"axis":null},"y2":{"field":"y1"}}},
{"data":{"name":"bands"},"mark":{"type":"line","stroke":"#ff0000","strokeWidth":2.5,"strokeJoin":"miter"},
 "encoding":{"x":{"field":"x","type":"quantitative","axis":null},"y":{"field":"y","type":"quantitative","axis":null},"detail":{"field":"id"},"order":{"field":"i"},
  "fill":{"field":"band","type":"nominal","legend":null,"scale":{"domain":["b0","b1","b2","b3","b4","b5","b6","b7","w1","w2","w3","w4","w5","w6"],"range":["#00ff00","#00ff66","#00ffc4","#00ffff","#00c8ff","#0088ff","#0040ff","#0020ff","#aaff00","#ffff00","#ffc800","#ff8000","#ff4000","#ff0000"]}}}},
{"data":{"name":"lines"},"mark":{"type":"line","stroke":"#ff0000","strokeWidth":2.5},
 "encoding":{"x":{"field":"x","type":"quantitative","axis":null},"y":{"field":"y","type":"quantitative","axis":null},"detail":{"field":"id"},"order":{"field":"i"}}},
{"data":{"name":"tunnels"},"mark":{"type":"line","fill":"#ffffff","stroke":"#ffffff","strokeWidth":1},
 "encoding":{"x":{"field":"x","type":"quantitative","axis":null},"y":{"field":"y","type":"quantitative","axis":null},"detail":{"field":"id"},"order":{"field":"i"}}},
{"data":{"name":"floors"},"mark":{"type":"rule","color":"#ff0000","strokeWidth":3},
 "encoding":{"x":{"field":"x0","type":"quantitative","axis":null},"x2":{"field":"x1"},"y":{"field":"y","type":"quantitative","axis":null}}},
{"data":{"name":"labels"},"mark":{"type":"rule","color":"#ffffff","strokeWidth":45,"strokeCap":"butt","clip":true},
 "encoding":{"x":{"field":"x0","type":"quantitative","axis":null},"x2":{"field":"x1"},"y":{"field":"y0","type":"quantitative","axis":null},"y2":{"field":"y1"}}},
{"data":{"name":"labels"},"mark":{"type":"text","font":"Liberation Sans","fontSize":60,"color":"#000000","align":"center","baseline":"middle","clip":true},
 "encoding":{"x":{"field":"x","type":"quantitative","axis":null},"y":{"field":"y","type":"quantitative","axis":null},"text":{"field":"text"},"angle":{"field":"angle","type":"quantitative","scale":null}}},
{"data":{"name":"triadText"},"mark":{"type":"text","font":"Liberation Sans","fontSize":52,"color":"#000000","align":"center","baseline":"middle"},
 "encoding":{"x":{"field":"x","type":"quantitative","axis":null},"y":{"field":"y","type":"quantitative","axis":null},"text":{"field":"text"}}},
{"data":{"name":"triadBoxes"},"mark":{"type":"rect","fill":"#ffffff","stroke":"#000000","strokeWidth":3},
 "encoding":{"x":{"field":"x0","type":"quantitative","axis":null},"x2":{"field":"x1"},"y":{"field":"y0","type":"quantitative","axis":null},"y2":{"field":"y1"}}},
{"data":{"name":"triadBars"},"mark":{"type":"rule","color":"#000000","strokeWidth":7,"strokeCap":"butt"},
 "encoding":{"x":{"field":"x0","type":"quantitative","axis":null},"x2":{"field":"x1"},"y":{"field":"y0","type":"quantitative","axis":null},"y2":{"field":"y1"}}},
{"data":{"name":"margins"},"mark":{"type":"rect","fill":"#ffffff"},
 "encoding":{"x":{"field":"x0","type":"quantitative","axis":null},"x2":{"field":"x1"},"y":{"field":"y0","type":"quantitative","axis":null},"y2":{"field":"y1"}}}
]
}
